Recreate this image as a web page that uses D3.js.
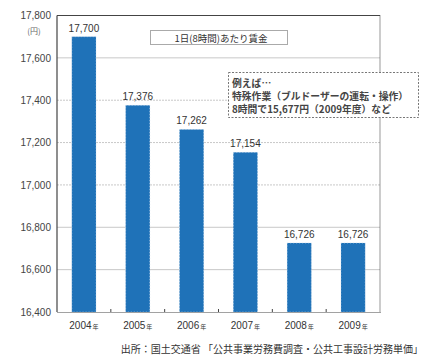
<!DOCTYPE html>
<html><head><meta charset="utf-8">
<script src="https://cdn.jsdelivr.net/npm/d3@7/dist/d3.min.js"></script>
<style>
body{margin:0;background:#fff;}
text{font-family:"Liberation Sans","DejaVu Sans",sans-serif;}
.jp{font-family:"Noto Sans CJK JP",sans-serif;}
</style></head><body>
<svg id="c" width="429" height="360"></svg>
<script>
const years = ["2004","2005","2006","2007","2008","2009"];
const wages = [17700,17376,17262,17154,16726,16726];
const yTicks = [16400,16600,16800,17000,17200,17400,17600,17800];
const dottedGrid = [17400,17200,17000];
const unitLabel = "(円)";
const titleText = "1日(8時間)あたり賃金";
const noteLines = ["例えば…","特殊作業（ブルドーザーの運転・操作）","8時間で15,677円（2009年度）など"];
const sourceText = "出所：国土交通省 「公共事業労務費調査・公共工事設計労務単価」";

const svg = d3.select("#c");
const L=57, R=380, T=15.5, B=312;
const x = d3.scaleBand().domain(years).range([L,R]).paddingInner(0.55).paddingOuter(0.275);
const y = d3.scaleLinear().domain([16400,17800]).range([B,T]);
const fmt = d3.format(",");

// grid
svg.append("g").selectAll("line").data(yTicks.filter(d=>d>16400 && d<17800)).join("line")
  .attr("x1",L).attr("x2",R).attr("y1",d=>y(d)).attr("y2",d=>y(d))
  .attr("stroke","#c8c8c8").attr("stroke-width",1)
  .attr("stroke-dasharray",d=>dottedGrid.includes(d)?"2,1":null);

// y axis labels
const ya = svg.append("g").attr("transform",`translate(${L},0)`)
  .call(d3.axisLeft(y).tickValues(yTicks).tickFormat(fmt).tickSize(0).tickPadding(6));
ya.select(".domain").remove();
ya.selectAll("text").attr("font-size",10).attr("fill","#444").attr("font-family","Liberation Sans, sans-serif");

svg.append("text").attr("class","jp").attr("x",34).attr("y",34).attr("font-size",8).attr("fill","#666")
  .attr("text-anchor","middle").text(unitLabel);

// bars
svg.append("g").selectAll("rect").data(years).join("rect")
  .attr("x",d=>x(d)).attr("width",x.bandwidth())
  .attr("y",(d,i)=>y(wages[i])).attr("height",(d,i)=>B-y(wages[i]))
  .attr("fill","#1f72b8").attr("stroke","#d8e6f2").attr("stroke-width",0.6).attr("stroke-dasharray","1,2");

svg.append("g").selectAll("text").data(years).join("text")
  .attr("x",d=>x(d)+x.bandwidth()/2).attr("y",(d,i)=>y(wages[i])-5)
  .attr("text-anchor","middle").attr("font-size",10).attr("fill","#333")
  .text((d,i)=>fmt(wages[i]));

// frame
svg.append("line").attr("x1",L).attr("x2",R).attr("y1",T).attr("y2",T).attr("stroke","#444").attr("stroke-width",1.2);
svg.append("line").attr("x1",L).attr("x2",L).attr("y1",T).attr("y2",B).attr("stroke","#444").attr("stroke-width",1.2);
svg.append("line").attr("x1",R).attr("x2",R).attr("y1",T).attr("y2",B).attr("stroke","#555").attr("stroke-width",1.2).attr("stroke-dasharray","1,1");

// x axis
const xa = svg.append("g").attr("transform",`translate(0,${B})`)
  .call(d3.axisBottom(x).tickSize(0).tickPadding(10).tickFormat(d=>d));
xa.select(".domain").attr("stroke","#444").attr("stroke-dasharray","1,1").attr("stroke-width",1.2);
xa.selectAll("text").attr("font-size",10).attr("fill","#333").attr("font-family","Liberation Sans, sans-serif")
  .each(function(){ const t=d3.select(this); const v=t.text(); t.text(v);
    t.append("tspan").attr("class","jp").attr("font-size",6).attr("dx",1).text("年"); });
// small separator ticks
svg.append("g").selectAll("line").data(years.slice(1)).join("line")
  .attr("x1",d=>x(d)-x.step()*x.paddingInner()/2).attr("x2",d=>x(d)-x.step()*x.paddingInner()/2)
  .attr("y1",B-3).attr("y2",B).attr("stroke","#444");

// title box
const tb = svg.append("g");
tb.append("rect").attr("x",150.5).attr("y",30.5).attr("width",137).attr("height",14)
  .attr("fill","#fff").attr("stroke","#555").attr("stroke-dasharray","1,1");
tb.append("text").attr("class","jp").attr("x",221).attr("y",41.5).attr("text-anchor","middle")
  .attr("font-size",9.5).attr("fill","#333").text(titleText);

// note box
const nb = svg.append("g");
nb.append("rect").attr("x",228.5).attr("y",72.5).attr("width",190).attr("height",45)
  .attr("fill","#fff").attr("stroke","#777").attr("stroke-dasharray","2,1.5");
nb.selectAll("text").data(noteLines).join("text").attr("class","jp")
  .attr("x",232).attr("y",(d,i)=>87+i*13).attr("font-size",9.8).attr("font-weight","bold").attr("fill","#444")
  .text(d=>d);

svg.append("text").attr("class","jp").attr("x",423).attr("y",353).attr("text-anchor","end")
  .attr("font-size",10).attr("fill","#333").text(sourceText);
</script></body></html>
